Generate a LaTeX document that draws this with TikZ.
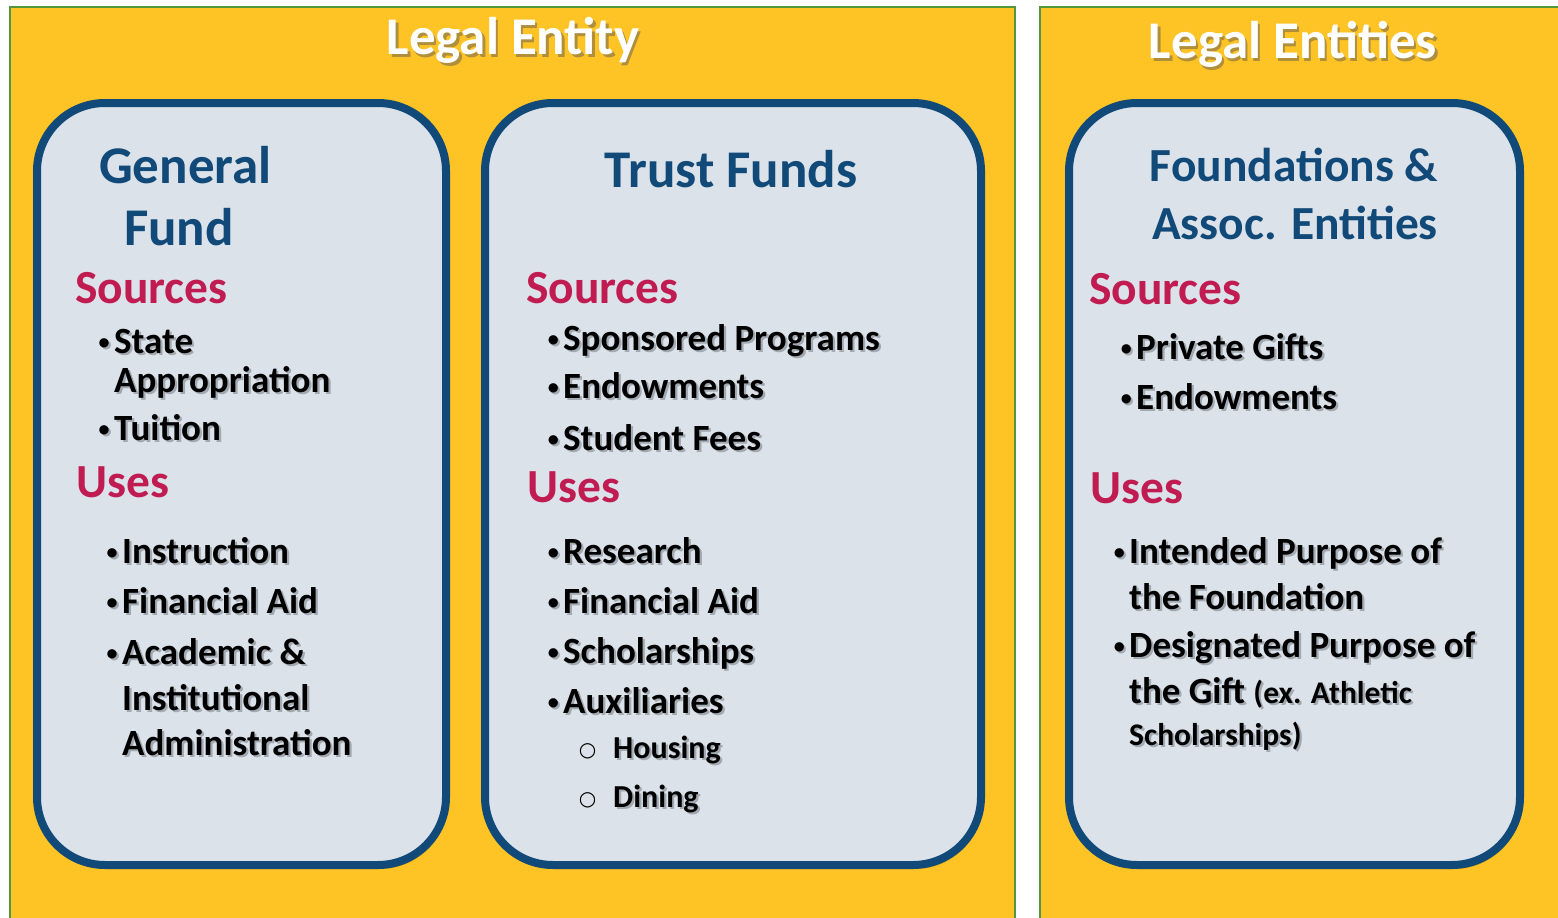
\documentclass[tikz,border=0pt]{standalone}
\usepackage{fontspec}
\setmainfont{Carlito}
\newfontfamily\dejaf{DejaVu Sans}
\usetikzlibrary{shadows}
\definecolor{gold}{RGB}{254,196,37}
\definecolor{panelline}{RGB}{84,150,64}
\definecolor{boxline}{RGB}{17,73,120}
\definecolor{boxfill}{RGB}{219,226,234}
\definecolor{headblue}{RGB}{17,73,120}
\definecolor{crimson}{RGB}{192,28,82}
\definecolor{txtshadow}{RGB}{163,169,177}
\definecolor{ttlshadow}{RGB}{175,142,60}
\newcommand\shd[1]{\leavevmode\rlap{\kern2.2pt\raisebox{-2.2pt}{\color{txtshadow}#1}}#1}
\newcommand\tshd[1]{\leavevmode\rlap{\kern2.5pt\raisebox{-3pt}{\color{ttlshadow}#1}}#1}
\newcommand\bul{\llap{\raisebox{4pt}{\fontsize{22}{24}\selectfont\textbullet}\kern4.5pt}}
\newcommand\cbul{\llap{\raisebox{1.5pt}{\dejaf\mdseries\fontsize{20}{22}\selectfont ○}\kern17pt}}
\begin{document}
\begin{tikzpicture}[x=1pt,y=-1pt,
  panel/.style={draw=panelline, line width=1.5pt, fill=gold, rectangle, inner sep=0pt},
  fundbox/.style={draw=boxline, line width=8pt, fill=boxfill, rectangle, rounded corners=68pt, inner sep=0pt,
    drop shadow={shadow xshift=2pt, shadow yshift=-4pt, opacity=0.22, fill=black}},
  titletext/.style={font=\fontsize{53}{60}\selectfont\bfseries, text=white, anchor=base, inner sep=0pt},
  headtext/.style={font=\fontsize{53}{60}\selectfont\bfseries, text=headblue, anchor=base west, inner sep=0pt},
  headc/.style={font=\fontsize{47.5}{54}\selectfont\bfseries, text=headblue, anchor=base, inner sep=0pt},
  secttext/.style={font=\fontsize{47.5}{54}\selectfont\bfseries, text=crimson, anchor=base west, inner sep=0pt},
  itemtext/.style={font=\fontsize{37}{44}\selectfont\bfseries, text=black, anchor=base west, inner sep=0pt},
  subtext/.style={font=\fontsize{32}{38}\selectfont\bfseries, text=black, anchor=base west, inner sep=0pt}]
\useasboundingbox (0,0) rectangle (1558,918);
\fill[white] (0,0) rectangle (1558,918);
% panels
\node[panel, minimum width=1005pt, minimum height=923pt] (leftpanel) at (512.5,468.5) {};
\node[panel, minimum width=530pt, minimum height=923pt] (rightpanel) at (1305,468.5) {};
% boxes
\node[fundbox, minimum width=409pt, minimum height=762pt] (gf) at (241.5,484) {};
\node[fundbox, minimum width=496pt, minimum height=762pt] (tf) at (733,484) {};
\node[fundbox, minimum width=451pt, minimum height=762pt] (fa) at (1294.5,484) {};
% titles
\node[titletext] (t1) at (513,54) {\tshd{Legal Entity}};
\node[titletext] (t2) at (1293,58) {\tshd{Legal Entities}};
% General Fund
\node[headtext] (gfh1) at (99,183) {General};
\node[headtext] (gfh2) at (124,245) {Fund};
\node[secttext] (gfs) at (75,303) {Sources};
\node[itemtext] (gfs1) at (114,353) {\shd{\bul State}};
\node[itemtext] (gfs1b) at (114,392) {\shd{Appropriation}};
\node[itemtext] (gfs2) at (114,440) {\shd{\bul Tuition}};
\node[secttext] (gfu) at (76,497) {Uses};
\node[itemtext] (gfu1) at (122,563) {\shd{\bul Instruction}};
\node[itemtext] (gfu2) at (122,613) {\shd{\bul Financial Aid}};
\node[itemtext] (gfu3) at (122,664) {\shd{\bul Academic \&}};
\node[itemtext] (gfu3b) at (122,710) {\shd{Institutional}};
\node[itemtext] (gfu3c) at (122,755) {\shd{Administration}};
% Trust Funds
\node[headc, font=\fontsize{53}{60}\selectfont\bfseries] (tfh) at (731,187) {Trust Funds};
\node[secttext] (tfs) at (526,303) {Sources};
\node[itemtext] (tfs1) at (563,350) {\shd{\bul Sponsored Programs}};
\node[itemtext] (tfs2) at (563,398) {\shd{\bul Endowments}};
\node[itemtext] (tfs3) at (563,450) {\shd{\bul Student Fees}};
\node[secttext] (tfu) at (527,502) {Uses};
\node[itemtext] (tfu1) at (563,563) {\shd{\bul Research}};
\node[itemtext] (tfu2) at (563,613) {\shd{\bul Financial Aid}};
\node[itemtext] (tfu3) at (563,663) {\shd{\bul Scholarships}};
\node[itemtext] (tfu4) at (563,713) {\shd{\bul Auxiliaries}};
\node[subtext] (tfu4a) at (613,758) {\cbul\shd{Housing}};
\node[subtext] (tfu4b) at (613,807) {\cbul\shd{Dining}};
% Foundations
\node[headc] (fah1) at (1294,181) {Foundations \&};
\node[headc] (fah2) at (1295,239) {Assoc. Entities};
\node[secttext] (fas) at (1089,304) {Sources};
\node[itemtext] (fas1) at (1136,359) {\shd{\bul Private Gifts}};
\node[itemtext] (fas2) at (1136,409) {\shd{\bul Endowments}};
\node[secttext] (fau) at (1090,503) {Uses};
\node[itemtext] (fau1) at (1129,563) {\shd{\bul Intended Purpose of}};
\node[itemtext] (fau1b) at (1129,609) {\shd{the Foundation}};
\node[itemtext] (fau2) at (1129,657) {\shd{\bul Designated Purpose of}};
\node[itemtext] (fau2b) at (1129,703) {\shd{the Gift {\fontsize{31.5}{36}\selectfont (ex. Athletic}}};
\node[itemtext, font=\fontsize{31.5}{36}\selectfont\bfseries] (fau2c) at (1129,745) {\shd{Scholarships)}};
\end{tikzpicture}
\end{document}
